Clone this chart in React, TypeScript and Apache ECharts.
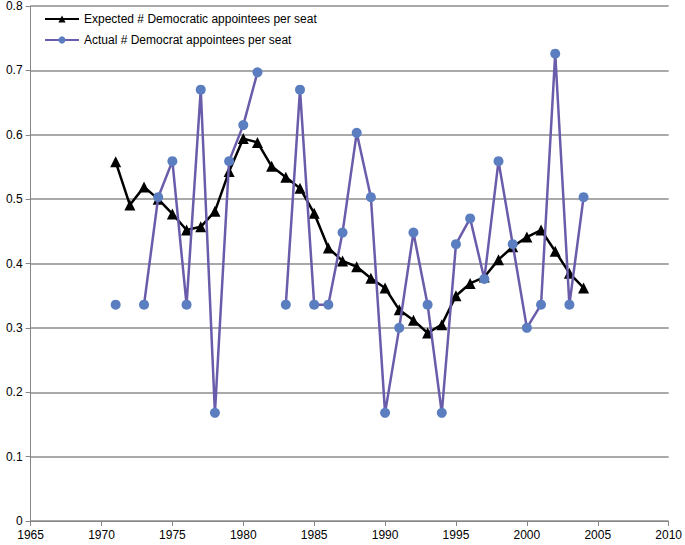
import React, { useEffect, useRef } from "react";
import * as echarts from "echarts";

const years: number[] = [1971,1972,1973,1974,1975,1976,1977,1978,1979,1980,1981,1982,1983,1984,1985,1986,1987,1988,1989,1990,1991,1992,1993,1994,1995,1996,1997,1998,1999,2000,2001,2002,2003,2004];
const expected: (number | null)[] = [0.558,0.491,0.519,0.500,0.477,0.452,0.457,0.481,0.543,0.594,0.588,0.551,0.534,0.517,0.478,0.424,0.404,0.395,0.377,0.362,0.328,0.312,0.292,0.305,0.350,0.369,0.379,0.406,0.426,0.441,0.452,0.419,0.385,0.362];
const actual: (number | null)[] = [0.336,null,0.336,0.503,0.559,0.336,0.670,0.168,0.559,0.615,0.697,null,0.336,0.670,0.336,0.336,0.448,0.603,0.503,0.168,0.300,0.448,0.336,0.168,0.430,0.470,0.376,0.559,0.430,0.300,0.336,0.726,0.336,0.503];
const seriesNames: string[] = ["Expected # Democratic appointees per seat", "Actual # Democrat appointees per seat"];

export default function App() {
  const ref = useRef<HTMLDivElement>(null);
  useEffect(() => {
    if (!ref.current) return;
    const chart = echarts.init(ref.current, undefined, { renderer: "svg" });
    const font = "Liberation Sans";
    chart.setOption({
      animation: false,
      backgroundColor: "#ffffff",
      grid: { left: 30.6, right: 14.5, top: 6, bottom: 24 },
      legend: {
        orient: "vertical",
        left: 39,
        top: 8,
        itemGap: 9,
        itemWidth: 34,
        itemHeight: 9,
        textStyle: { fontFamily: font, fontSize: 12, color: "#000" },
        data: seriesNames,
      },
      xAxis: {
        type: "value",
        min: 1965,
        max: 2010,
        interval: 5,
        axisLine: { show: true, lineStyle: { color: "#868686", width: 1 } },
        axisTick: { show: true, inside: false, length: 5, lineStyle: { color: "#868686" } },
        axisLabel: { fontFamily: font, fontSize: 12, color: "#000", margin: 8, formatter: (v: number) => String(v) },
        splitLine: { show: false },
      },
      yAxis: {
        type: "value",
        min: 0,
        max: 0.8,
        interval: 0.1,
        axisLine: { show: true, lineStyle: { color: "#868686", width: 1 } },
        axisTick: { show: true, length: 5, lineStyle: { color: "#868686" } },
        axisLabel: { fontFamily: font, fontSize: 12, color: "#000", margin: 8 },
        splitLine: { show: true, lineStyle: { color: "#8c8c8c", width: 1.5 } },
      },
      series: [
        {
          name: seriesNames[0],
          type: "line",
          data: years.map((y, i) => [y, expected[i]]),
          symbol: "triangle",
          symbolSize: 11,
          lineStyle: { color: "#000000", width: 2.5 },
          itemStyle: { color: "#000000" },
          z: 2,
        },
        {
          name: seriesNames[1],
          type: "line",
          data: years.map((y, i) => [y, actual[i]]),
          connectNulls: false,
          symbol: "circle",
          symbolSize: 10,
          showAllSymbol: true,
          lineStyle: { color: "#6a5caa", width: 2.5 },
          itemStyle: { color: "#5b7ec0" },
          z: 3,
        },
      ],
    });
    return () => chart.dispose();
  }, []);
  return <div ref={ref} style={{ width: 685, height: 545, position: "absolute", left: 0, top: 0 }} />;
}
